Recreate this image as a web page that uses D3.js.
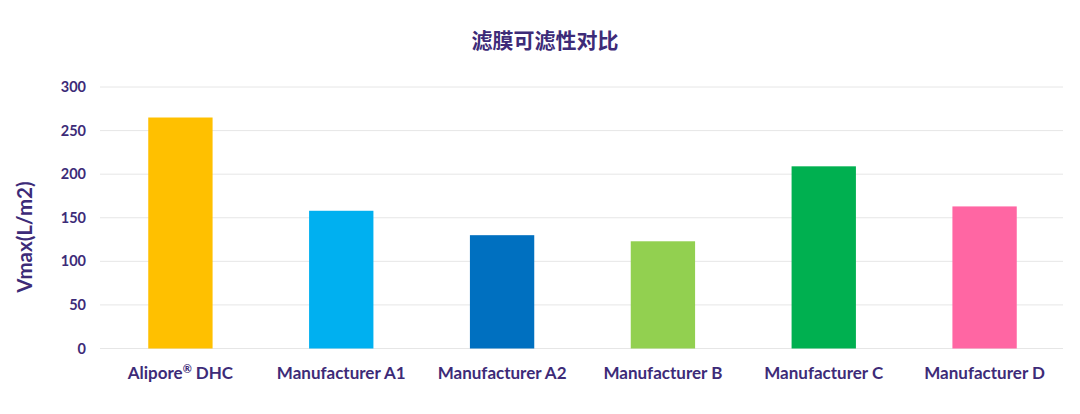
<!DOCTYPE html>
<html lang="zh">
<head>
<meta charset="UTF-8">
<title>滤膜可滤性对比</title>
<style>
  body { margin: 0; background: #fff; }
  svg text { fill: #3d2b78; font-weight: bold; }
</style>
</head>
<body>
<svg id="chart"></svg>
<script src="https://cdnjs.cloudflare.com/ajax/libs/d3/7.9.0/d3.min.js"></script>
<script>
// chart data
const categories = ["Alipore® DHC", "Manufacturer A1", "Manufacturer A2", "Manufacturer B", "Manufacturer C", "Manufacturer D"];
const vmax = [265, 158, 130, 123, 209, 163];
const barColors = ["#ffc000", "#00b0f0", "#0070c0", "#92d050", "#00b050", "#ff66a3"];
const yTicks = [0, 50, 100, 150, 200, 250, 300];

const w = 1080, h = 414;
const svg = d3.select("#chart").attr("width", w).attr("height", h);

const x = d3.scaleBand()
    .domain(categories)
    .range([100, 1065])
    .paddingInner(0.6)
    .paddingOuter(0.3);

const y = d3.scaleLinear()
    .domain([0, 300])
    .range([348.5, 87]);

// gridlines
svg.append("g")
    .selectAll("line")
    .data(yTicks)
    .join("line")
    .attr("x1", 100)
    .attr("x2", 1063)
    .attr("y1", d => y(d))
    .attr("y2", d => y(d))
    .attr("stroke", "#e6e6e6")
    .attr("stroke-width", 1);

// y axis labels
const yAxis = svg.append("g")
    .attr("transform", "translate(86,0)")
    .call(d3.axisLeft(y).tickValues(yTicks).tickSize(0).tickPadding(0));
yAxis.select(".domain").remove();
yAxis.selectAll("text")
    .attr("font-family", "Lato, 'Open Sans', sans-serif")
    .attr("font-size", 14.5)
    .attr("fill", "#3d2b78");

// bars
svg.append("g")
    .selectAll("rect")
    .data(vmax)
    .join("rect")
    .attr("x", (d, i) => x(categories[i]))
    .attr("y", d => y(d))
    .attr("width", x.bandwidth())
    .attr("height", d => y(0) - y(d))
    .attr("fill", (d, i) => barColors[i]);

// x axis labels
const xAxis = svg.append("g")
    .attr("transform", `translate(0,${y(0)})`)
    .call(d3.axisBottom(x).tickSize(0).tickPadding(18));
xAxis.select(".domain").remove();
xAxis.selectAll("text")
    .attr("font-family", "Lato, 'Open Sans', sans-serif")
    .attr("font-size", 17)
    .attr("fill", "#3d2b78")
    .each(function (d) {
        // small superscript for the ® mark
        if (!d.includes("®")) return;
        const t = d3.select(this).text(null);
        const parts = d.split("®");
        t.append("tspan").text(parts[0]);
        t.append("tspan").attr("font-size", 11).attr("dy", "-0.5em").text("®");
        t.append("tspan").attr("dy", "0.32em").text(parts[1]);
    });

// y axis title
svg.append("text")
    .attr("transform", "translate(32,237) rotate(-90)")
    .attr("text-anchor", "middle")
    .attr("font-family", "Lato, 'Open Sans', sans-serif")
    .attr("font-size", 20.5)
    .text("Vmax(L/m2)");

// chart title
svg.append("text")
    .attr("x", 545)
    .attr("y", 48)
    .attr("text-anchor", "middle")
    .attr("font-family", "'Noto Sans CJK SC', sans-serif")
    .attr("font-size", 21)
    .attr("fill", "#4a3a8c")
    .text("滤膜可滤性对比");
</script>
</body>
</html>
